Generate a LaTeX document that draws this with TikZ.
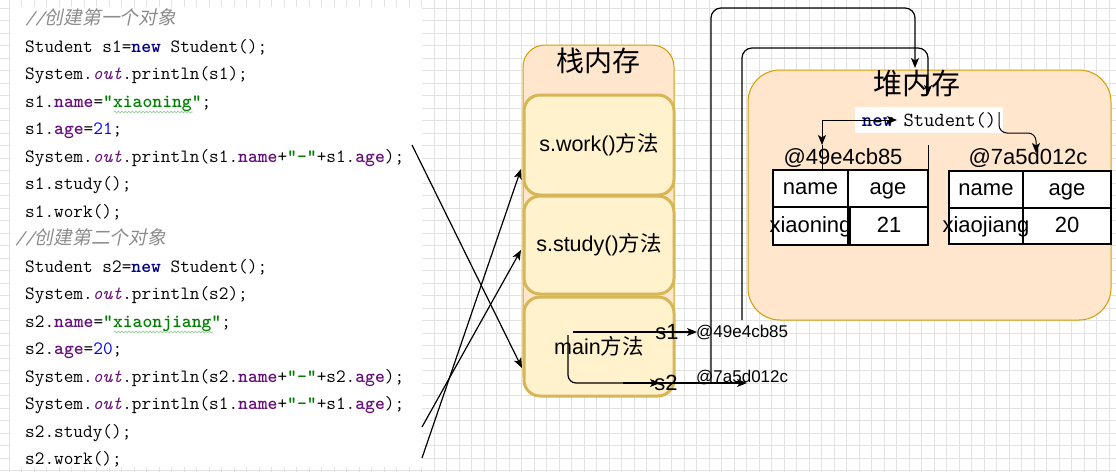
\documentclass[tikz,border=0pt]{standalone}
\usepackage{fontspec}
\usetikzlibrary{arrows.meta,decorations.pathmorphing}
\newfontfamily\arial{Liberation Sans}
\newfontfamily\cjk{Noto Sans CJK SC}
\newfontfamily\cjkit[FakeSlant=0.2]{Noto Sans CJK SC}
\definecolor{kwnavy}{HTML}{000080}
\definecolor{fldpur}{HTML}{660E7A}
\definecolor{strgrn}{HTML}{008000}
\definecolor{numblue}{HTML}{0000FF}
\definecolor{cmtgray}{HTML}{8C8C8C}
\definecolor{gridc}{HTML}{E2E2E2}
\definecolor{memfill}{HTML}{FFE6CC}
\definecolor{memdraw}{HTML}{D79B00}
\definecolor{framefill}{HTML}{FFF2CC}
\definecolor{framedraw}{HTML}{D6B656}
\definecolor{wavyc}{HTML}{9ACD9A}
\newcommand\kw[1]{{\color{kwnavy}\bfseries #1}}
\newcommand\fld[1]{{\color{fldpur}\bfseries #1}}
\newcommand\stf[1]{{\color{fldpur}\itshape #1}}
\newcommand\jstr[1]{{\color{strgrn}\bfseries #1}}
\newcommand\jnum[1]{{\color{numblue}#1}}
\newcommand\cmt[1]{{\color{cmtgray}\itshape //\cjkit #1}}
\tikzset{
  gridline/.style={draw=gridc, line width=0.6pt},
  codeline/.style={anchor=west, inner sep=0pt, text height=13pt, text depth=4pt,
    font=\ttfamily\fontsize{18.75}{20}\selectfont},
  arr/.style={line width=1.2pt, -{Stealth[length=10pt,width=8pt,inset=2.5pt]}},
  plain/.style={line width=1.2pt},
  memory/.style={draw=memdraw, fill=memfill, line width=1pt, rounded corners=22pt},
  frame/.style={draw=framedraw, fill=framefill, line width=3pt, rounded corners=16pt,
    minimum width=150pt, font=\arial\fontsize{21.5}{24}\selectfont},
  cell/.style={draw=black, fill=white, line width=1.1pt, inner sep=0pt,
    text height=16pt, text depth=4pt,
    font=\arial\fontsize{22}{24}\selectfont},
  addr/.style={inner sep=0pt, text height=16pt, text depth=4pt,
    font=\arial\fontsize{22}{24}\selectfont},
  small/.style={inner sep=0pt, font=\arial\fontsize{17}{19}\selectfont},
  varname/.style={inner sep=0pt, font=\arial\fontsize{22}{24}\selectfont},
  title/.style={inner sep=0pt, font=\cjk\fontsize{28}{30}\selectfont},
  wavy/.style={draw=wavyc, line width=0.7pt, decorate,
    decoration={snake, amplitude=0.9pt, segment length=3.5pt}}
}
\begin{document}
\begin{tikzpicture}[x=1pt,y=-1pt]
\useasboundingbox (0,0) rectangle (1116,472);
\fill[white] (0,0) rectangle (1116,472);
% grid
\foreach \gx in {9,21.5,...,1116} \draw[gridline] (\gx,0) -- (\gx,472);
\foreach \gy in {8,20.5,...,472} \draw[gridline] (0,\gy) -- (1116,\gy);
% code panel
\fill[white] (10,7) rectangle (422,467);
\node[codeline] (c1)  at (25,20)    {\cmt{创建第一个对象}};
\node[codeline] (c2)  at (25,47.5)  {Student s1=\kw{new} Student();};
\node[codeline] (c3)  at (25,75)    {System.\stf{out}.println(s1);};
\node[codeline] (c4)  at (25,102.5) {s1.\fld{name}=\jstr{"xiaoning"};};
\node[codeline] (c5)  at (25,130)   {s1.\fld{age}=\jnum{21};};
\node[codeline] (c6)  at (25,157.5) {System.\stf{out}.println(s1.\fld{name}+\jstr{"-"}+s1.\fld{age});};
\node[codeline] (c7)  at (25,185)   {s1.study();};
\node[codeline] (c8)  at (25,212.5) {s1.work();};
\node[codeline] (c9)  at (15,240)   {\cmt{创建第二个对象}};
\node[codeline] (c10) at (25,267.5) {Student s2=\kw{new} Student();};
\node[codeline] (c11) at (25,295)   {System.\stf{out}.println(s2);};
\node[codeline] (c12) at (25,322.5) {s2.\fld{name}=\jstr{"xiaonjiang"};};
\node[codeline] (c13) at (25,350)   {s2.\fld{age}=\jnum{20};};
\node[codeline] (c14) at (25,377.5) {System.\stf{out}.println(s2.\fld{name}+\jstr{"-"}+s2.\fld{age});};
\node[codeline] (c15) at (25,405)   {System.\stf{out}.println(s1.\fld{name}+\jstr{"-"}+s1.\fld{age});};
\node[codeline] (c16) at (25,432.5) {s2.study();};
\node[codeline] (c17) at (25,460)   {s2.work();};
\draw[wavy] (114,112) -- (193,112);
\draw[wavy] (114,332) -- (213,332);
% stack
\node[memory, minimum width=151pt, minimum height=351pt] (stack) at (598.5,220.5) {};
\node[title] (stacktitle) at (598.5,61) {栈内存};
\node[frame, minimum height=100pt] (work)  at (599,145)   {s.work()\cjk 方法};
\node[frame, minimum height=98pt]  (study) at (599,245)   {s.study()\cjk 方法};
\node[frame, minimum height=99pt]  (main)  at (599,346.5) {main\cjk 方法};
% code -> stack connectors
\coordinate (a1s) at (412,145);  \coordinate (a1e) at (522,368);
\coordinate (a2s) at (422,427);  \coordinate (a2e) at (521,250);
\coordinate (a3s) at (422,458);  \coordinate (a3e) at (521,169);
\draw[arr] (a1s) -- (a1e);
\draw[arr] (a2s) -- (a2e);
\draw[arr] (a3s) -- (a3e);
% heap
\node[memory, rounded corners=32pt, minimum width=363pt, minimum height=250pt] (heap) at (929.5,195) {};
\node[title, font=\cjk\fontsize{29}{31}\selectfont] (heaptitle) at (917,84) {堆内存};
\node[fill=white, minimum width=148pt, minimum height=26pt, inner sep=0pt,
  font=\ttfamily\fontsize{20}{22}\selectfont] (newst) at (929,120) {\kw{new} Student()};
% object 1
\node[addr] (addr1) at (843,158) {@49e4cb85};
\node[cell, minimum width=75pt, minimum height=37pt] (n1) at (810.5,188.5) {name};
\node[cell, minimum width=80pt, minimum height=37pt] (g1) at (888,188.5) {age};
\node[cell, minimum width=75pt, minimum height=38pt] (v1) at (810.5,226) {};
\node[cell, minimum width=78pt, minimum height=38pt] (w1) at (889,226) {21};
\node[addr] at (v1.center) {xiaoning};
\draw[line width=1.1pt] (g1.north east) -- ++(0,-24);
% object 2
\node[addr] (addr2) at (1028,158) {@7a5d012c};
\node[cell, minimum width=74pt, minimum height=37pt] (n2) at (986,189.5) {name};
\node[cell, minimum width=88pt, minimum height=37pt] (g2) at (1067,189.5) {age};
\node[cell, minimum width=74pt, minimum height=36pt] (v2) at (986,226) {};
\node[cell, minimum width=88pt, minimum height=36pt] (w2) at (1067,226) {20};
\node[addr] at (v2.center) {xiaojiang};
% new Student() connectors
\coordinate (nj) at (822,120);
\coordinate (nt) at (897,120);
\coordinate (nd) at (822,145);
\draw[arr, line width=1pt] (nj) -- (nt);
\draw[arr, line width=1pt] (nj) -- (nd);
\draw[line width=1pt] (nd) -- (n1.north -| nd);
\coordinate (sr) at (999,112);
\coordinate (se) at (1036,153);
\draw[arr, line width=1pt, rounded corners=8pt] (sr) |- (1036,133) -- (se);
% main-frame variables
\node[varname] (s1) at (667,332) {s1};
\node[varname] (s2) at (666,383) {s2};
\node[small, anchor=west] (ref1) at (696,333) {@49e4cb85};
\node[small, anchor=west] (ref2) at (696,378) {@7a5d012c};
\coordinate (v1s) at (573,332);
\coordinate (v1e) at (697,332);
\draw[arr] (v1s) -- (v1e);
\coordinate (v2s) at (568,335);
\coordinate (v2e) at (660,383);
\draw[arr, rounded corners=8pt] (v2s) |- (v2e);
\coordinate (v3s) at (623,383);
\coordinate (v3e) at (747,383);
\draw[arr] (v3s) -- (v3e);
% stack -> heap connectors
\coordinate (ra) at (711,383);
\coordinate (rae) at (915,68);
\draw[arr, rounded corners=10pt] (ra) -- (711,8) -- (915,8) -- (rae);
\coordinate (rb) at (742,320);
\coordinate (rbe) at (928,95);
\draw[arr, rounded corners=10pt] (rb) -- (742,48) -- (928,48) -- (rbe);
\end{tikzpicture}
\end{document}
